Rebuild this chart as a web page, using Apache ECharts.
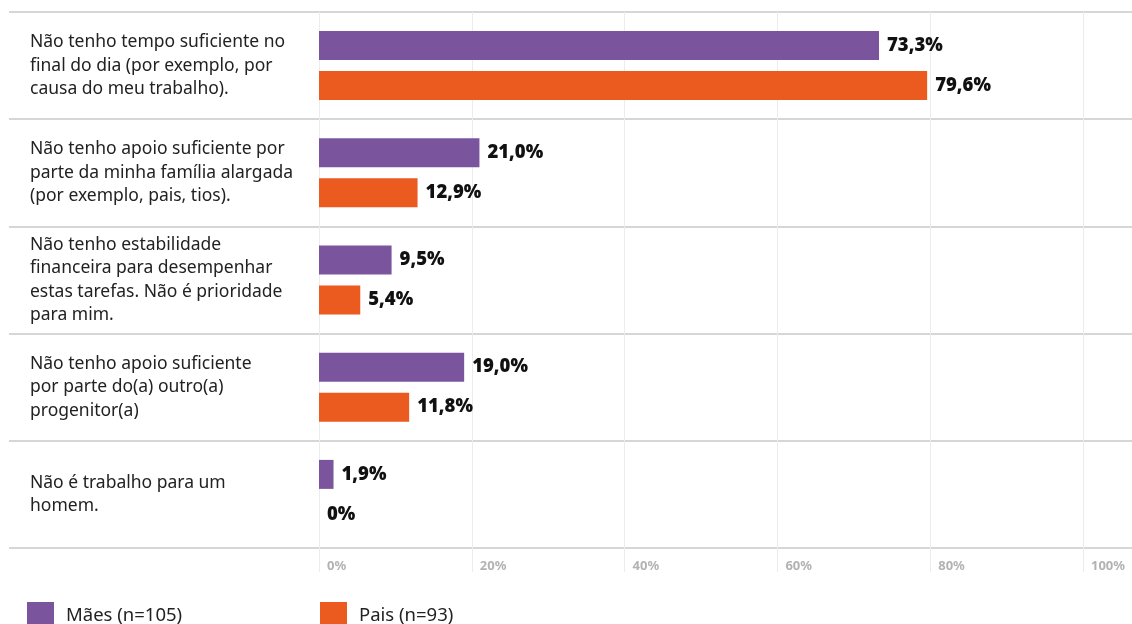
<!DOCTYPE html>
<html>
<head>
<meta charset="utf-8">
<script src="https://cdn.jsdelivr.net/npm/echarts@6/dist/echarts.min.js"></script>
<style>
  html, body { margin: 0; padding: 0; background: #fff; }
  #chart { width: 1132px; height: 624px; }
</style>
</head>
<body>
<div id="chart"></div>
<script>
// Reasons given, one per row (top to bottom)
const categories = [
  'Não tenho tempo suficiente no\nfinal do dia (por exemplo, por\ncausa do meu trabalho).',
  'Não tenho apoio suficiente por\nparte da minha família alargada\n(por exemplo, pais, tios).',
  'Não tenho estabilidade\nfinanceira para desempenhar\nestas tarefas. Não é prioridade\npara mim.',
  'Não tenho apoio suficiente\npor parte do(a) outro(a)\nprogenitor(a)',
  'Não é trabalho para um\nhomem.'
];
const seriesNames = ['Mães (n=105)', 'Pais (n=93)'];
const maesValues = [73.3, 21.0, 9.5, 19.0, 1.9];
const paisValues = [79.6, 12.9, 5.4, 11.8, 0];
const xTicks = [0, 20, 40, 60, 80, 100];

const PURPLE = '#7a559d';
const ORANGE = '#eb5a1e';

const fmtPct = v => (v === 0 ? '0%' : v.toFixed(1).replace('.', ',') + '%');

const valueLabel = {
  show: true,
  position: 'right',
  distance: 8,
  fontFamily: 'Noto Sans',
  fontWeight: 900,
  fontSize: 18.5,
  color: '#111',
  formatter: p => fmtPct(p.value)
};

const legendBase = {
  icon: 'rect',
  top: 602,
  padding: 0,
  itemWidth: 27, itemHeight: 27, itemGap: 12,
  textStyle: { fontFamily: 'Noto Sans', fontSize: 18.5, color: '#222', padding: [0, 0, 0, 7] }
};

const chart = echarts.init(document.getElementById('chart'), null, { renderer: 'canvas' });
chart.setOption({
  animation: false,
  backgroundColor: '#fff',
  grid: [
    { left: 319, right: 49, top: 12, bottom: 76 },
    { left: 9, right: 0, top: 12, bottom: 76 }
  ],
  xAxis: [
    {
      gridIndex: 0,
      type: 'value',
      min: xTicks[0],
      max: xTicks[xTicks.length - 1],
      interval: xTicks[1] - xTicks[0],
      axisLine: { show: false },
      axisTick: { show: true, length: 24, lineStyle: { color: '#ececec', width: 1 } },
      splitLine: { show: true, lineStyle: { color: '#ececec', width: 1 } },
      axisLabel: {
        formatter: '{value}%',
        align: 'left',
        padding: [0, 0, 0, 8],
        margin: 12,
        fontFamily: 'Noto Sans',
        fontWeight: 'bold',
        fontSize: 13,
        color: '#b3b3b3'
      }
    },
    { gridIndex: 1, type: 'value', show: false, min: 0, max: 1 }
  ],
  yAxis: [
    {
      gridIndex: 0,
      type: 'category',
      inverse: true,
      data: categories,
      axisLine: { show: false },
      axisTick: { show: false },
      splitLine: { show: false },
      axisLabel: {
        align: 'left',
        margin: 289,
        fontFamily: 'Noto Sans',
        fontSize: 17.5,
        lineHeight: 23.5,
        color: '#222'
      }
    },
    {
      gridIndex: 1,
      type: 'category',
      inverse: true,
      data: categories,
      axisLine: { show: false },
      axisTick: { show: false },
      axisLabel: { show: false },
      splitLine: { show: true, lineStyle: { color: '#c8c8c8', width: 1.5 } }
    }
  ],
  legend: [
    Object.assign({ data: [seriesNames[0]], left: 27 }, legendBase),
    Object.assign({ data: [seriesNames[1]], left: 320 }, legendBase)
  ],
  series: [
    {
      name: seriesNames[0],
      type: 'bar',
      xAxisIndex: 0, yAxisIndex: 0,
      data: maesValues,
      barWidth: 29,
      barGap: '38%',
      itemStyle: { color: PURPLE },
      label: valueLabel
    },
    {
      name: seriesNames[1],
      type: 'bar',
      xAxisIndex: 0, yAxisIndex: 0,
      data: paisValues,
      barWidth: 29,
      barGap: '38%',
      itemStyle: { color: ORANGE },
      label: valueLabel
    }
  ]
});
</script>
</body>
</html>
